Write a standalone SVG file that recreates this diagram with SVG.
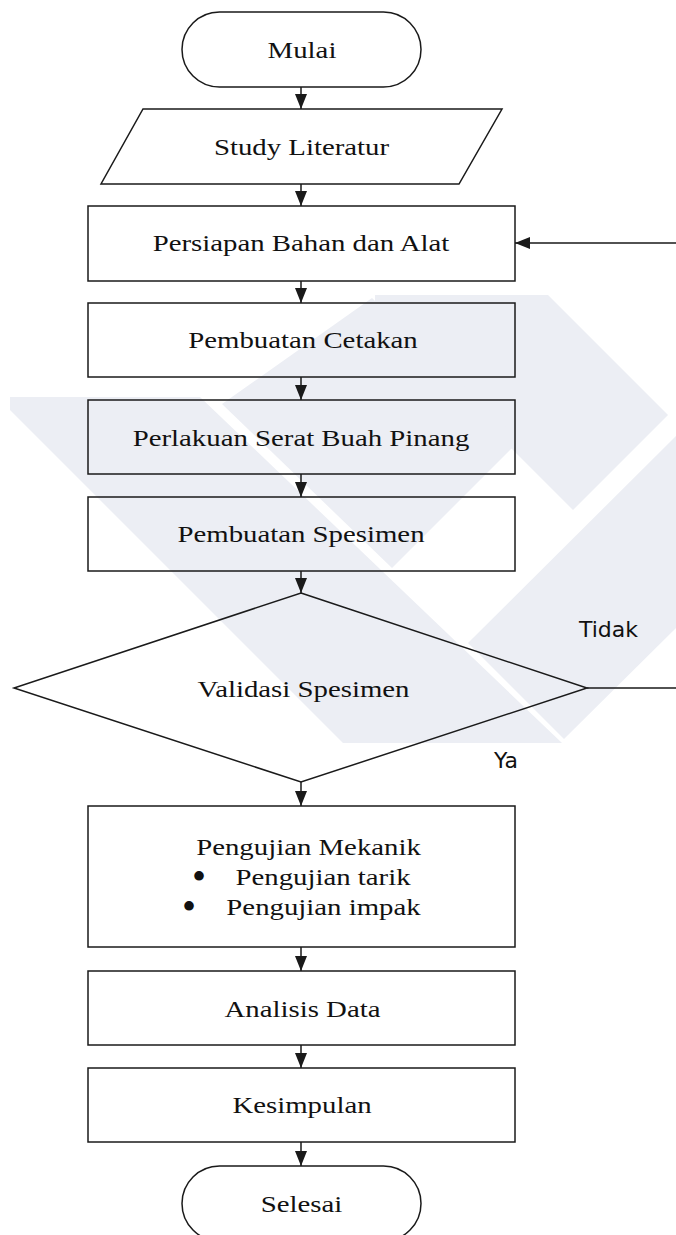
<svg xmlns="http://www.w3.org/2000/svg" width="676" height="1235" viewBox="0 0 676 1235">
<style>
.wm{fill:#eceef4;stroke:none}
.shape{fill:none;stroke:#1a1a1a;stroke-width:1.5}
.conn{fill:none;stroke:#1a1a1a;stroke-width:1.5}
.t{font-family:"Liberation Serif","Times New Roman",serif;font-size:24px;fill:#111;text-anchor:middle}
.b{font-family:"Liberation Serif","Times New Roman",serif;font-size:40px;fill:#111}
.lbl{font-family:"DejaVu Sans",sans-serif;font-size:22px;fill:#111}
</style>
<defs>
<marker id="arr" viewBox="0 0 15 12" refX="15" refY="6" markerWidth="15" markerHeight="12" markerUnits="userSpaceOnUse" orient="auto">
<path d="M0,0 L15,6 L0,12 z" fill="#1a1a1a"/>
</marker>
</defs>
<rect width="676" height="1235" fill="#ffffff"/>
<g id="watermark">
<polygon class="wm" points="10,397 200,397 562,743 343,743 10,410"/>
<polygon class="wm" points="468,643 564,739 676,628 676,436"/>
<polygon class="wm" points="375,295 548,295 668,415 573,510 375,312"/>
<polygon class="wm" points="222,404 372,298 520,440 392,568"/>
</g>
<g id="connectors">
<line class="conn" x1="301" y1="87" x2="301" y2="109" marker-end="url(#arr)"/>
<line class="conn" x1="301" y1="184" x2="301" y2="206" marker-end="url(#arr)"/>
<line class="conn" x1="301" y1="281" x2="301" y2="303" marker-end="url(#arr)"/>
<line class="conn" x1="301" y1="377" x2="301" y2="400" marker-end="url(#arr)"/>
<line class="conn" x1="301" y1="474" x2="301" y2="497" marker-end="url(#arr)"/>
<line class="conn" x1="301" y1="571" x2="301" y2="593" marker-end="url(#arr)"/>
<line class="conn" x1="301" y1="782" x2="301" y2="806" marker-end="url(#arr)"/>
<line class="conn" x1="301" y1="947" x2="301" y2="971" marker-end="url(#arr)"/>
<line class="conn" x1="301" y1="1045" x2="301" y2="1068" marker-end="url(#arr)"/>
<line class="conn" x1="301" y1="1142" x2="301" y2="1166" marker-end="url(#arr)"/>
<path class="conn" d="M587,688 L678,688 L678,243 L515,243" marker-end="url(#arr)"/>
<text class="lbl" x="579" y="637">Tidak</text>
<text class="lbl" x="494" y="768">Ya</text>
</g>
<g id="mulai">
<rect class="shape" x="182" y="12" width="239" height="75" rx="37.5" ry="37.5"/>
<text class="t" transform="translate(302,58) scale(1.2,1)">Mulai</text>
</g>
<g id="study">
<polygon class="shape" points="143,109 502,109 459,184 101,184"/>
<text class="t" transform="translate(301.5,155) scale(1.2,1)">Study Literatur</text>
</g>
<g id="persiapan">
<rect class="shape" x="88" y="206" width="427" height="75"/>
<text class="t" transform="translate(301,251) scale(1.2,1)">Persiapan Bahan dan Alat</text>
</g>
<g id="cetakan">
<rect class="shape" x="88" y="303" width="427" height="74"/>
<text class="t" transform="translate(303,348) scale(1.2,1)">Pembuatan Cetakan</text>
</g>
<g id="perlakuan">
<rect class="shape" x="88" y="400" width="427" height="74"/>
<text class="t" transform="translate(301,446) scale(1.2,1)">Perlakuan Serat Buah Pinang</text>
</g>
<g id="spesimen">
<rect class="shape" x="88" y="497" width="427" height="74"/>
<text class="t" transform="translate(301,542) scale(1.2,1)">Pembuatan Spesimen</text>
</g>
<g id="validasi">
<polygon class="shape" points="301,593 587,688 301,782 14,688"/>
<text class="t" transform="translate(303.5,697) scale(1.2,1)">Validasi Spesimen</text>
</g>
<g id="pengujian">
<rect class="shape" x="88" y="806" width="427" height="141"/>
<text class="t" transform="translate(308.5,855) scale(1.2,1)">Pengujian Mekanik</text>
<text class="b" x="192" y="890">•</text>
<text class="t" transform="translate(323,885) scale(1.2,1)">Pengujian tarik</text>
<text class="b" x="182" y="920">•</text>
<text class="t" transform="translate(323.5,915) scale(1.2,1)">Pengujian impak</text>
</g>
<g id="analisis">
<rect class="shape" x="88" y="971" width="427" height="74"/>
<text class="t" transform="translate(302.5,1017) scale(1.2,1)">Analisis Data</text>
</g>
<g id="kesimpulan">
<rect class="shape" x="88" y="1068" width="427" height="74"/>
<text class="t" transform="translate(302,1113) scale(1.2,1)">Kesimpulan</text>
</g>
<g id="selesai">
<rect class="shape" x="182" y="1166" width="239" height="75" rx="37.5" ry="37.5"/>
<text class="t" transform="translate(301.5,1212) scale(1.2,1)">Selesai</text>
</g>
</svg>
